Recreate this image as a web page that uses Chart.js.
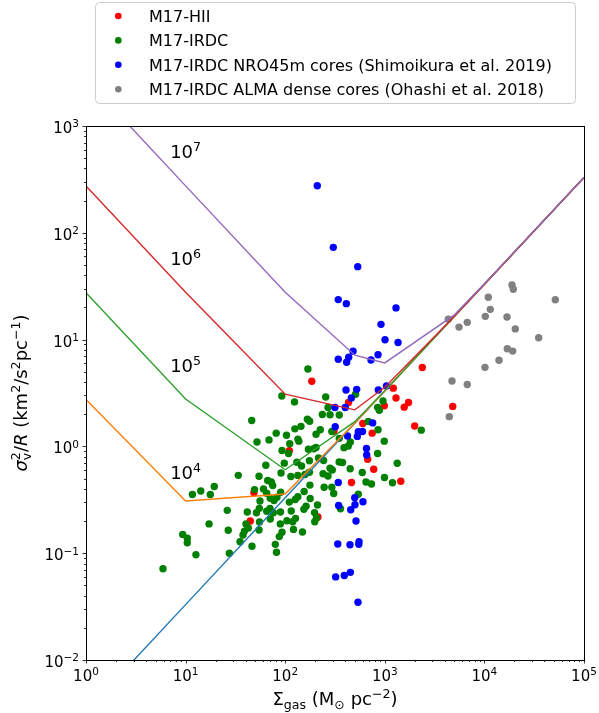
<!DOCTYPE html>
<html>
<head>
<meta charset="utf-8">
<script src="https://cdn.jsdelivr.net/npm/chart.js@4"></script>
<style>
  html, body { margin: 0; padding: 0; background: #fff; }
  canvas { display: block; }
</style>
</head>
<body>
<canvas id="chart" width="599" height="713"></canvas>
<script>
// Sigma_gas [Msun/pc^2] and sigma_v^2/R [km^2/s^2/pc] for each sample
const hiiSigma = [185, 2380, 1217, 1296, 1730, 1566, 988, 432, 4810, 1995, 601, 747, 673, 774, 463, 1448, 110, 48.6, 44.6, 213, 309];
const hiiRatio = [4.07, 5.48, 3.51, 2.84, 2.58, 2.33, 2.40, 2.58, 2.37, 1.55, 1.64, 1.33, 0.757, 0.611, 0.459, 0.471, 0.912, 0.368, 0.200, 0.218, 1.39];

const irdcSigma = [169, 92.5, 124, 255, 509, 959, 847, 881, 269, 236, 282, 349, 46.1, 167, 176, 144, 125, 81.2, 103, 225,
  204, 294, 683, 855, 988, 349, 451, 134, 137, 111, 52.1, 68.8, 92.9, 108, 171, 193, 204, 389, 430, 847,
  2324, 63.9, 97.9, 131, 146, 175, 216, 243, 348, 376, 449, 594, 1332, 282, 33.8, 54.6, 90.8, 114, 134, 158,
  175, 240, 269, 297, 66.7, 72.5, 74.9, 177, 246, 294, 648, 735, 993, 1195, 542, 307, 49.2, 60.5, 65.2, 11.7,
  14.2, 17.7, 19.4, 82.7, 90.1, 155, 134, 126, 110, 178, 211, 162, 154, 115, 197, 127, 119, 206, 198, 121,
  149, 104, 92.9, 87.3, 359, 55.8, 70.8, 77.2, 26.2, 41.6, 51.5, 55.0, 65.2, 70.4, 76.0, 89.7, 70.8, 55.2, 54.6, 40.4,
  42.6, 39.0, 37.7, 35.2, 17.2, 26.8, 89.3, 9.35, 10.4, 10.4, 79.6, 46.4, 81.8, 27.5, 12.7, 5.93];
const irdcRatio = [5.31, 2.96, 2.61, 2.90, 3.08, 2.66, 2.32, 2.18, 2.31, 1.99, 1.98, 1.97, 1.75, 1.80, 1.72, 1.54, 1.46, 1.33, 1.27, 1.43,
  1.30, 1.38, 1.71, 1.43, 1.12, 1.19, 1.10, 1.17, 1.12, 1.06, 1.10, 1.15, 0.916, 0.859, 0.94, 0.95, 0.977, 0.973, 1.01, 0.859,
  1.42, 0.667, 0.697, 0.710, 0.655, 0.735, 0.778, 0.738, 0.714, 0.706, 0.617, 0.570, 0.695, 0.624, 0.536, 0.526, 0.564, 0.522, 0.535, 0.546,
  0.572, 0.555, 0.528, 0.601, 0.480, 0.464, 0.431, 0.434, 0.414, 0.414, 0.464, 0.445, 0.512, 0.456, 0.356, 0.362, 0.394, 0.399, 0.364, 0.355,
  0.382, 0.355, 0.421, 0.334, 0.372, 0.378, 0.338, 0.318, 0.301, 0.325, 0.283, 0.275, 0.258, 0.248, 0.240, 0.212, 0.197, 0.214, 0.197, 0.167,
  0.158, 0.201, 0.157, 0.143, 0.261, 0.308, 0.327, 0.311, 0.252, 0.243, 0.239, 0.263, 0.247, 0.263, 0.239, 0.243, 0.209, 0.196, 0.165, 0.188,
  0.172, 0.161, 0.148, 0.128, 0.188, 0.164, 0.188, 0.150, 0.138, 0.125, 0.121, 0.116, 0.102, 0.0998, 0.0968, 0.0716];

const nroSigma = [210, 304, 535, 341, 411, 1295, 916, 1005, 1358, 480, 434, 341, 414, 727, 855, 408, 522, 461, 861, 1040,
  316, 401, 318, 756, 422, 542, 597, 530, 655, 658, 341, 499, 604, 502, 344, 455, 514, 337, 447, 551,
  548, 321, 392, 451, 538];
const nroRatio = [276, 73.1, 48.2, 23.7, 21.7, 19.8, 13.9, 9.98, 9.4, 7.77, 6.83, 6.54, 6.13, 6.44, 7.22, 3.37, 3.42, 2.84, 3.37, 3.68,
  2.31, 2.31, 1.53, 1.66, 1.25, 1.37, 1.38, 1.24, 0.955, 0.83, 0.459, 0.331, 0.303, 0.284, 0.280, 0.255, 0.200, 0.122, 0.120, 0.128,
  0.121, 0.060, 0.0618, 0.0662, 0.0347];

const almaSigma = [4340, 5560, 6730, 10940, 11460, 10210, 18920, 19500, 16870, 20420, 51520, 35080, 16980, 19230, 14020, 10140, 4730, 6730, 4440];
const almaRatio = [15.5, 13.1, 14.5, 24.9, 19.2, 16.5, 32.4, 29.6, 16.3, 12.6, 23.6, 10.4, 8.2, 7.8, 6.4, 5.5, 4.1, 3.8, 1.9];

// model curves for external pressure P/k = 0, 1e4 ... 1e7 K cm^-3
const modelSigma = [1, 10, 100, 500, 1000, 5000, 10000, 100000];
const modelP0 = [0.0033, 0.033, 0.33, 1.65, 3.3, 16.5, 33, 330];
const modelP4 = [2.75, 0.308, 0.358, 1.656, 3.303, 16.5, 33.0, 330];
const modelP5 = [27.5, 2.78, 0.605, 1.705, 3.328, 16.51, 33.0, 330];
const modelP6 = [275, 27.8, 3.08, 2.2, 3.575, 16.56, 33.03, 330];
const modelP7 = [2750, 275, 27.8, 7.15, 6.05, 17.05, 33.28, 330];

// pressure labels (exponent of 10) and where they sit
const pressureExp = ['7', '6', '5', '4'];
const pressureLabelSigma = 7;
const pressureLabelRatio = [500, 50, 5, 0.5];

const seriesNames = ['M17-HII', 'M17-IRDC', 'M17-IRDC NRO45m cores (Shimoikura et al. 2019)', 'M17-IRDC ALMA dense cores (Ohashi et al. 2018)'];
const seriesColors = ['#ff0000', '#008000', '#0000ff', '#808080'];

const xTickValues = [1, 10, 100, 1000, 10000, 100000];
const xTickExps = ['0', '1', '2', '3', '4', '5'];
const yTickValues = [0.01, 0.1, 1, 10, 100, 1000];
const yTickExps = ['\u22122', '\u22121', '0', '1', '2', '3'];

const FONT = "'DejaVu Sans', sans-serif";

const zip = (xs, ys) => xs.map((v, i) => ({ x: v, y: ys[i] }));

// draws text pieces: '' normal, 'i' italic, 'sup', 'sub', 'stack' (sup above the previous sub)
function drawRich(ctx, parts, x, y, size, align) {
  const items = [];
  let cx = 0, subX = 0;
  for (const [t, k] of parts) {
    const small = k === 'sup' || k === 'sub' || k === 'stack';
    ctx.font = (k === 'i' ? 'italic ' : '') + (small ? size * 0.7 : size) + 'px ' + FONT;
    const w = ctx.measureText(t).width;
    let at = cx;
    if (k === 'stack') {
      at = subX;
      cx = Math.max(cx, subX + w);
    } else {
      if (k === 'sub') subX = cx;
      cx += w;
    }
    const dy = (k === 'sup' || k === 'stack') ? -0.38 * size : (k === 'sub' ? 0.2 * size : 0);
    items.push({ t, font: ctx.font, at, dy });
  }
  const x0 = align === 'center' ? x - cx / 2 : (align === 'right' ? x - cx : x);
  ctx.textAlign = 'left';
  ctx.textBaseline = 'alphabetic';
  for (const it of items) {
    ctx.font = it.font;
    ctx.fillText(it.t, x0 + it.at, y + it.dy);
  }
}

// axes frame, log ticks, tick labels, axis titles and pressure labels
const axesDecor = {
  id: 'axesDecor',
  afterDatasetsDraw(chart) {
    const { ctx, chartArea: a, scales: { x, y } } = chart;
    ctx.save();
    ctx.fillStyle = '#000';
    ctx.strokeStyle = '#000';

    // pressure labels
    pressureExp.forEach((e, i) => {
      drawRich(ctx, [['10', ''], [e, 'sup']], x.getPixelForValue(pressureLabelSigma),
        y.getPixelForValue(pressureLabelRatio[i]), 18, 'left');
    });

    // ticks
    ctx.beginPath();
    for (let e = 0; e < 5; e++) {
      for (let m = 1; m <= 10; m++) {
        if (m === 10 && e < 4) continue;
        const v = m * Math.pow(10, e);
        const px = Math.round(x.getPixelForValue(v)) + 0.5;
        const len = (m === 1 || m === 10) ? 3.5 : 2;
        ctx.moveTo(px, a.bottom);
        ctx.lineTo(px, a.bottom + len);
      }
    }
    for (let e = -2; e < 3; e++) {
      for (let m = 1; m <= 10; m++) {
        if (m === 10 && e < 2) continue;
        const v = m * Math.pow(10, e);
        const py = Math.round(y.getPixelForValue(v)) + 0.5;
        const len = (m === 1 || m === 10) ? 3.5 : 2;
        ctx.moveTo(a.left, py);
        ctx.lineTo(a.left - len, py);
      }
    }
    ctx.lineWidth = 0.8;
    ctx.stroke();

    // frame
    ctx.lineWidth = 1;
    ctx.strokeRect(Math.round(a.left) + 0.5, Math.round(a.top) + 0.5,
      Math.round(a.right - a.left), Math.round(a.bottom - a.top));

    // tick labels
    xTickValues.forEach((v, i) => {
      drawRich(ctx, [['10', ''], [xTickExps[i], 'sup']], x.getPixelForValue(v), a.bottom + 21, 15, 'center');
    });
    yTickValues.forEach((v, i) => {
      drawRich(ctx, [['10', ''], [yTickExps[i], 'sup']], a.left - 7, y.getPixelForValue(v) + 7, 15, 'right');
    });

    // axis titles
    drawRich(ctx, [['\u03a3', ''], ['gas', 'sub'], [' (M', ''], ['\u2299', 'sub'], [' pc', ''], ['\u22122', 'sup'], [')', '']],
      (a.left + a.right) / 2, 705, 18, 'center');
    ctx.save();
    ctx.translate(20, (a.top + a.bottom) / 2);
    ctx.rotate(-Math.PI / 2);
    drawRich(ctx, [['\u03c3', 'i'], ['v', 'sub'], ['2', 'stack'], ['/', ''], ['R', 'i'], [' (km', ''], ['2', 'sup'],
      ['/s', ''], ['2', 'sup'], ['pc', ''], ['\u22121', 'sup'], [')', '']], 0, 7, 18, 'center');
    ctx.restore();
    ctx.restore();
  },
  afterDraw(chart) {
    // legend box in the top margin
    const ctx = chart.ctx;
    ctx.save();
    ctx.beginPath();
    ctx.roundRect(95.5, 2.5, 480, 101, 4);
    ctx.fillStyle = 'rgba(255,255,255,0.8)';
    ctx.fill();
    ctx.strokeStyle = '#cccccc';
    ctx.lineWidth = 1;
    ctx.stroke();
    seriesNames.forEach((name, i) => {
      const cy = 16 + i * 24.4;
      ctx.beginPath();
      ctx.arc(118.3, cy, 3.3, 0, Math.PI * 2);
      ctx.fillStyle = seriesColors[i];
      ctx.fill();
      ctx.fillStyle = '#000';
      ctx.font = '16px ' + FONT;
      ctx.textAlign = 'left';
      ctx.textBaseline = 'alphabetic';
      ctx.fillText(name, 149, cy + 5.8);
    });
    ctx.restore();
  }
};

const scatterSet = (i, xs, ys, order) => ({
  label: seriesNames[i],
  data: zip(xs, ys),
  backgroundColor: seriesColors[i],
  borderWidth: 0,
  pointRadius: 3.7,
  order
});

const modelSet = (ys, color, order) => ({
  data: zip(modelSigma, ys),
  showLine: true,
  borderColor: color,
  borderWidth: 1.4,
  pointRadius: 0,
  fill: false,
  order
});

new Chart(document.getElementById('chart'), {
  type: 'scatter',
  data: {
    datasets: [
      modelSet(modelP0, '#1f77b4', 4),
      modelSet(modelP4, '#ff7f0e', 3),
      modelSet(modelP5, '#2ca02c', 2),
      modelSet(modelP6, '#d62728', 1),
      modelSet(modelP7, '#9467bd', 0),
      scatterSet(0, hiiSigma, hiiRatio, 8),
      scatterSet(1, irdcSigma, irdcRatio, 7),
      scatterSet(2, nroSigma, nroRatio, 6),
      scatterSet(3, almaSigma, almaRatio, 5)
    ]
  },
  options: {
    responsive: false,
    animation: false,
    events: [],
    layout: { padding: { top: 126, right: 15, left: 0, bottom: 0 } },
    plugins: { legend: { display: false }, tooltip: { enabled: false } },
    scales: {
      x: {
        type: 'logarithmic', min: 1, max: 100000, position: 'bottom',
        ticks: { display: false }, grid: { display: false }, border: { display: false },
        afterFit(s) { s.height = 53; }
      },
      y: {
        type: 'logarithmic', min: 0.01, max: 1000,
        ticks: { display: false }, grid: { display: false }, border: { display: false },
        afterFit(s) { s.width = 86; }
      }
    }
  },
  plugins: [axesDecor]
});
</script>
</body>
</html>
